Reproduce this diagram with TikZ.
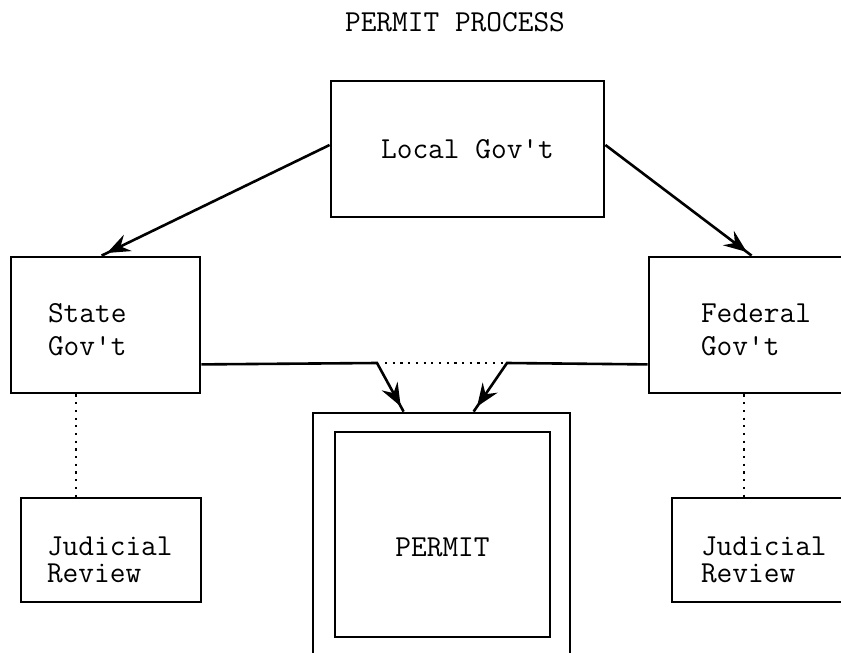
\documentclass[tikz,border=0pt]{standalone}
\usepackage{fontspec}
\usetikzlibrary{arrows.meta,decorations.markings}

\newcommand{\govfont}{\fontsize{30.5}{33}\selectfont\ttfamily}
\newcommand{\judgefont}{\fontsize{30.5}{27}\selectfont\ttfamily}

\tikzset{
	box/.style={draw, rectangle, line width=2.8pt, inner ysep=0pt},
	gov/.style={box, align=left, minimum height=136pt, font=\govfont, text height=30pt, text depth=34.4pt},
	judge/.style={box, align=left, minimum height=104pt, font=\judgefont, text height=30pt, text depth=18.4pt},
	link/.style={line width=2.6pt, postaction={decorate},
		decoration={markings, mark=at position -6pt with {\arrow{Stealth[length=23pt,width=18pt,inset=8pt]}}}},
	dots/.style={line width=2.2pt, dash pattern=on 2.2pt off 5.5pt},
}

\begin{document}
\begin{tikzpicture}[x=1pt, y=-1pt]

% Page frame
\useasboundingbox (0,0) rectangle (841,653);
\clip (0,0) rectangle (841,653);

% Title
\node[font=\govfont] (title) at (455,22) {PERMIT PROCESS};

% Government boxes
\node[box, minimum width=273pt, minimum height=136pt, font=\govfont] (local) at (467.5,149) {Local Gov't};
\node[gov, text width=115pt, inner xsep=37pt] (state) at (105.5,325) {State\\Gov't};
\node[gov, text width=112pt, inner xsep=52pt] (federal) at (757,325) {Federal\\Gov't};

% Judicial review boxes
\node[judge, text width=128pt, inner xsep=26pt] (judl) at (111,550) {Judicial\\Review};
\node[judge, text width=128pt, inner xsep=29pt] (judr) at (765,550) {Judicial\\Review};

% Permit (double frame)
\node[box, minimum width=257pt, minimum height=247pt] (permit) at (441.5,536.5) {};
\node[box, minimum width=215pt, minimum height=205pt] (permitin) at (442.5,534.5) {};
\node[font=\govfont] (ptext) at (442.5,547) {PERMIT};

% Arrows from local government
\draw[link] ([yshift=4pt]local.west) -- ([xshift=92pt]state.north west);
\draw[link] ([yshift=4pt]local.east) -- ([xshift=104pt]federal.north west);

% Arrows into the permit
\coordinate (sbend) at (377,363);
\coordinate (fbend) at (507,363);
\draw[link] ([yshift=30pt]state.south east) -- (sbend) -- ([xshift=92pt]permit.north west);
\draw[link] ([yshift=30pt]federal.south west) -- (fbend) -- ([xshift=162pt]permit.north west);
\draw[dots] ([xshift=8pt]sbend) -- (fbend);

% Dotted links to judicial review
\draw[dots] ([xshift=66pt]state.south west) -- ([xshift=56pt]judl.north west);
\draw[dots] ([xshift=96pt]federal.south west) -- ([xshift=73pt]judr.north west);

\end{tikzpicture}
\end{document}
